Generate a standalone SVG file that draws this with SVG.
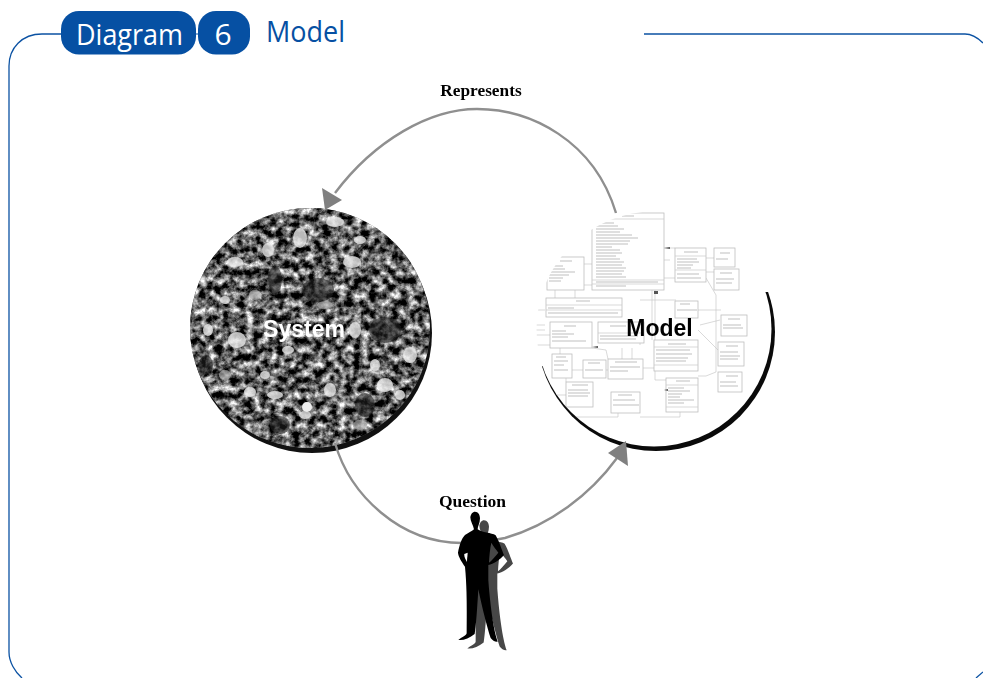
<svg xmlns="http://www.w3.org/2000/svg" width="983" height="678" viewBox="0 0 983 678">
<style>
.frame{fill:none;stroke:#0b52a3;stroke-width:1.3}
.pill{fill:#0650a3}
.head{font-family:"Open Sans","Noto Sans",sans-serif}
.lab{font-family:"Liberation Serif",serif;font-weight:700;fill:#000;text-anchor:middle}
.big{font-family:"Liberation Sans",Arial,sans-serif;font-weight:700;font-size:23px;text-anchor:middle}
.arc{fill:none;stroke:#8f8f8f;stroke-width:2.4;stroke-linecap:butt}
.tip{fill:#808080}
.box{fill:#fff;stroke:#bdbdbd;stroke-width:.8}
.tx{fill:none;stroke:#b8b8b8;stroke-width:.9}
.ln{fill:none;stroke:#c8c8c8;stroke-width:.7}
.hi{fill:#e8e8e8;opacity:.8}
.mid{fill:#a8a8a8;opacity:.7}
.dk{fill:#1e1e1e;opacity:.6}
</style>
<defs>
<clipPath id="sysClip"><circle cx="310" cy="328" r="120"/></clipPath>
<clipPath id="modClip"><circle cx="654" cy="329" r="117.500"/></clipPath>
<clipPath id="modShadow"><polygon points="530,372 700,292 790,292 790,460 530,460"/></clipPath>
<filter id="crowd" x="0" y="0" width="100%" height="100%" color-interpolation-filters="sRGB">
<feTurbulence type="fractalNoise" baseFrequency="0.13" numOctaves="4" seed="11"/>
<feColorMatrix type="matrix" values="2 0 0 0 -0.62 2 0 0 0 -0.62 2 0 0 0 -0.62 0 0 0 0 1"/>
</filter>
<filter id="soft" x="-5%" y="-5%" width="110%" height="110%"><feGaussianBlur stdDeviation="0.35"/></filter>
<filter id="soft2" x="-20%" y="-20%" width="140%" height="140%"><feGaussianBlur stdDeviation="0.7"/></filter>
<path id="man" d="M435 245C445 245 450 255 450 265C450 280 443 290 443 298C455 308 485 308 497 316C508 335 515 360 522 375C510 390 490 402 475 405L475 450C480 520 490 600 503 635C495 636 488 632 482 624C472 595 456 530 445 478C442 530 438 590 434 612C418 625 400 632 385 630C395 622 408 618 410 610C410 560 412 480 405 410C395 395 385 380 384 368C388 345 395 325 405 315C415 308 425 305 432 298C430 285 421 275 421 262C422 252 428 245 435 245ZM484 338C480 355 478 380 477 398C485 392 495 380 505 368C500 360 490 350 484 338ZM403 372C402 380 406 388 411 396L413 368Z" fill-rule="evenodd"/>
</defs>

<g id="frame">
<path class="frame" d="M61 34H42C22 34 9 48 9 66V652C9 662 15 672 22 678"/>
<path class="frame" d="M644 34H965C972 34 978 38 983 43"/>
<path class="frame" d="M976 678L983 672"/>
</g>

<g id="title">
<rect class="pill" x="61" y="11" width="135" height="43.500" rx="18"/>
<rect class="pill" x="198" y="11" width="52" height="43.500" rx="18"/>
<path d="M196 34h2" stroke="#0650a3" stroke-width="1"/>
<text class="head" x="76" y="45" font-size="30" fill="#fff" textLength="107" lengthAdjust="spacingAndGlyphs">Diagram</text>
<text class="head" x="223" y="45" font-size="30" fill="#fff" text-anchor="middle">6</text>
<text class="head" x="266" y="42" font-size="29" fill="#0650a3" textLength="79" lengthAdjust="spacingAndGlyphs">Model</text>
</g>

<g id="node-system">
<circle cx="312" cy="333" r="120" fill="#111"/>
<g clip-path="url(#sysClip)">
<rect x="190" y="208" width="240" height="240" fill="#555"/>
<rect x="190" y="208" width="240" height="240" filter="url(#crowd)"/>
<g filter="url(#soft2)">
<ellipse class="hi" cx="237" cy="340" rx="9" ry="8"/><ellipse class="hi" cx="300" cy="238" rx="7" ry="10"/>
<ellipse class="hi" cx="352" cy="262" rx="9" ry="6"/><ellipse class="hi" cx="268" cy="250" rx="6" ry="7"/>
<ellipse class="hi" cx="235" cy="262" rx="8" ry="5"/><ellipse class="hi" cx="385" cy="385" rx="8" ry="7"/>
<ellipse class="hi" cx="250" cy="392" rx="6" ry="5"/><ellipse class="hi" cx="275" cy="395" rx="8" ry="4"/>
<ellipse class="hi" cx="410" cy="355" rx="7" ry="8"/><ellipse class="hi" cx="305" cy="415" rx="6" ry="4"/>
<ellipse class="hi" cx="355" cy="330" rx="6" ry="8"/><ellipse class="hi" cx="208" cy="330" rx="5" ry="6"/>
<ellipse class="hi" cx="335" cy="222" rx="9" ry="5"/><ellipse class="hi" cx="330" cy="390" rx="6" ry="7"/>
<ellipse class="hi" cx="288" cy="350" rx="6" ry="4"/><ellipse class="hi" cx="400" cy="395" rx="5" ry="5"/>
<ellipse class="hi" cx="360" cy="240" rx="6" ry="4"/><ellipse class="hi" cx="225" cy="300" rx="5" ry="4"/>
<ellipse class="hi" cx="265" cy="375" rx="5" ry="4"/><ellipse class="hi" cx="375" cy="365" rx="5" ry="6"/>
<ellipse class="mid" cx="325" cy="305" rx="8" ry="4"/><ellipse class="mid" cx="255" cy="295" rx="6" ry="5"/>
<ellipse class="mid" cx="360" cy="425" rx="7" ry="5"/><ellipse class="mid" cx="225" cy="375" rx="6" ry="5"/>
<ellipse class="dk" cx="318" cy="290" rx="16" ry="12"/><ellipse class="dk" cx="385" cy="330" rx="16" ry="13"/>
<ellipse class="dk" cx="275" cy="280" rx="7" ry="14"/><ellipse class="dk" cx="365" cy="405" rx="10" ry="12"/>
<ellipse class="dk" cx="280" cy="425" rx="10" ry="9"/><ellipse class="dk" cx="206" cy="365" rx="7" ry="10"/>
<circle cx="307" cy="407" r="5" fill="#eee"/>
</g>
</g>
<text class="big" x="304" y="337" fill="#fff">System</text>
</g>

<g id="node-model">
<circle cx="656" cy="332" r="119" fill="#0a0a0a" clip-path="url(#modShadow)"/>
<circle cx="654" cy="329" r="117.500" fill="#fff"/>
<g clip-path="url(#modClip)"><g filter="url(#soft)">
<path class="ln" d="M664 248H675M664 278H675M584 264H592M584 285H592M652 290V340M655 290V380H666M622 348V359M632 348V359M640 343V345M592 348L606 350L608 359M706 278L716 295V372L706 376H698M698 310H721M698 330L718 350M735 257H714M706 258H714M706 272H714M545 310H538M545 330H533M550 345H535M550 335H536M545 325H535M566 395H553M640 417H680V412M618 413V417H575M593 370H608M572 370H583M670 260H662M640 300H676M575 290V298M555 290V298M560 348V354M566 378V382M642 368L654 368M720 320L700 325"/>
<rect class="box" x="592" y="213" width="72" height="77"/>
<path class="ln" d="M592 219H664M592 280H664M592 284H664"/>
<rect class="box" x="675" y="248" width="31" height="34"/>
<path class="ln" d="M675 256H706M675 270H706"/>
<rect class="box" x="714" y="248" width="21" height="19"/>
<rect class="box" x="714" y="269" width="25" height="21"/>
<rect class="box" x="547" y="257" width="37" height="33"/>
<rect class="box" x="546" y="298" width="76" height="19"/>
<path class="ln" d="M546 305H622M546 310H622"/>
<rect class="box" x="550" y="322" width="42" height="26"/>
<rect class="box" x="598" y="322" width="46" height="21"/>
<path class="ln" d="M598 333H644"/>
<rect class="box" x="654" y="340" width="44" height="31"/>
<path class="ln" d="M654 347H698M654 365H698"/>
<rect class="box" x="675" y="301" width="23" height="17"/>
<rect class="box" x="721" y="315" width="26" height="21"/>
<rect class="box" x="718" y="342" width="26" height="24"/>
<rect class="box" x="718" y="372" width="24" height="20"/>
<rect class="box" x="666" y="378" width="32" height="34"/>
<path class="ln" d="M666 385H698M666 407H698"/>
<rect class="box" x="611" y="392" width="29" height="21"/>
<rect class="box" x="608" y="359" width="35" height="20"/>
<rect class="box" x="583" y="360" width="23" height="18"/>
<rect class="box" x="552" y="354" width="20" height="24"/>
<rect class="box" x="566" y="382" width="27" height="25"/>
<path class="tx" d="M622 216h12M596 223h18M596 226h22M596 229h28M596 232h24M596 235h36M596 238h42M596 241h34M596 244h32M596 247h16M596 250h24M596 253h26M596 256h20M596 259h24M596 262h28M596 265h26M596 268h30M596 271h28M596 274h26M596 277h30M596 282h62M596 286h30"/>
<path class="tx" d="M684 252h14M677 259h20M677 262h22M677 265h16M677 268h14M677 274h22M677 278h24M720 253h10M716 259h12M720 273h12M716 279h18M716 283h16"/>
<path class="tx" d="M560 261h12M549 266h14M549 269h16M549 272h26M549 275h20M549 278h14M549 281h12M576 301h14M548 308h26M548 313h70"/>
<path class="tx" d="M564 326h12M552 331h14M552 334h22M552 337h16M552 341h34M610 326h16M600 336h38M600 339h36M668 344h18M656 350h34M656 354h36M656 358h32M656 361h30M680 304h10M677 310h20M728 319h12M723 325h18M723 328h20M726 346h12M720 352h18M720 356h20M720 359h18M726 376h12M720 382h16M720 386h18"/>
<path class="tx" d="M676 381h14M668 388h16M668 391h22M668 394h14M668 397h12M668 400h26M668 403h16M618 395h14M613 400h22M613 405h26M615 362h22M610 367h30M610 371h18M588 363h12M585 370h18M556 357h10M554 361h14M554 365h10M554 370h14M572 385h16M568 390h20M568 393h22M568 396h20"/>
<path d="M587 226l6-1v2zM664 248l6-1v2zM654 291h4v3h-4zM592 347l6-1v2zM664 390l4-1v2z" fill="#555"/>
</g></g>
<text class="big" x="659.500" y="336" fill="#000">Model</text>
</g>

<g id="connectors">
<g id="conn-represents">
<path class="arc" d="M616 213C594 140 530 109 477 109C430 109 375 140 335 193"/>
<polygon class="tip" points="322,188 342,200 325,210"/>
</g>
<g id="conn-question">
<path class="arc" d="M335 443C350 495 400 543 462 543C478 543 490 541 505 538C550 525 590 495 617 458"/>
<polygon class="tip" points="608,453 626,441 628,466"/>
</g>
</g>

<g id="node-person">
<use href="#man" transform="translate(339,438.500) scale(.3333)" fill="#474747"/>
<use href="#man" transform="translate(330,430) scale(.3333)" fill="#000"/>
</g>

<g id="labels">
<text class="lab" x="481" y="96" font-size="17.300">Represents</text>
<text class="lab" x="472.500" y="507" font-size="17.500">Question</text>
</g>
</svg>
